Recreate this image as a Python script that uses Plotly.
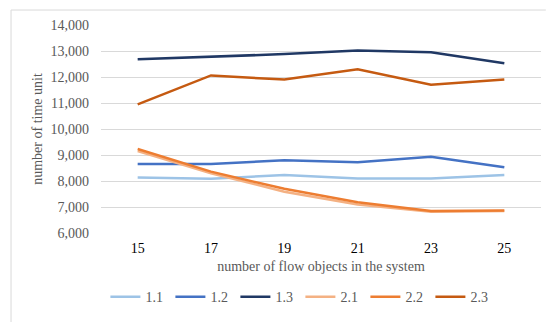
import plotly.graph_objects as go

categories = ["15", "17", "19", "21", "23", "25"]
series_names = ["1.1", "1.2", "1.3", "2.1", "2.2", "2.3"]
s11 = [8130, 8090, 8230, 8100, 8100, 8230]
s12 = [8650, 8650, 8800, 8720, 8930, 8530]
s13 = [12680, 12770, 12880, 13020, 12950, 12530]
s21 = [9150, 8300, 7590, 7100, 6820, 6850]
s22 = [9230, 8360, 7700, 7180, 6850, 6870]
s23 = [10950, 12060, 11900, 12300, 11700, 11900]
values = [s11, s12, s13, s21, s22, s23]
colors = ["#9DC3E6", "#4472C4", "#203864", "#F4B183", "#ED7D31", "#C55A11"]

FONT = "Liberation Serif, Times New Roman, serif"

fig = go.Figure()
for name, vals, col in zip(series_names, values, colors):
    fig.add_trace(go.Scatter(x=categories, y=vals, name=name, mode="lines",
                             line=dict(color=col, width=2.5)))

fig.update_layout(
    width=547, height=322,
    margin=dict(l=101, r=6, t=25, b=89, autoexpand=False),
    paper_bgcolor="white", plot_bgcolor="white",
    font=dict(family=FONT, size=14, color="#595959"),
    showlegend=True,
    legend=dict(orientation="h", x=0.01, xanchor="left", y=-0.308, yanchor="middle",
                font=dict(family=FONT, size=14, color="#595959"),
                entrywidth=20, entrywidthmode="pixels",
                traceorder="normal", itemwidth=30),
    xaxis=dict(type="category", range=[-0.5, 5.5], showgrid=False, zeroline=False,
               showline=False, ticks="",
               tickfont=dict(family=FONT, size=14, color="#000000"),
               ticklabelstandoff=5,
               title=dict(text="number of flow objects in the system",
                          font=dict(family=FONT, size=14, color="#595959"), standoff=6)),
    yaxis=dict(range=[6000, 14000], dtick=1000, tickformat=",d",
               showgrid=True, gridcolor="#D9D9D9", gridwidth=1, zeroline=False,
               showline=False, ticks="", ticklabelstandoff=11,
               tickfont=dict(family=FONT, size=14, color="#595959"),
               title=dict(text="number of time unit",
                          font=dict(family=FONT, size=14, color="#595959"), standoff=4)),
    shapes=[
        dict(type="line", xref="paper", yref="paper", x0=-0.2045, x1=1.011, y0=1.072, y1=1.072,
             line=dict(color="#D9D9D9", width=1)),
        dict(type="line", xref="paper", yref="paper", x0=-0.2045, x1=-0.2045, y0=1.072, y1=-0.43,
             line=dict(color="#D9D9D9", width=1)),
    ],
)

fig.write_html("out.html")
